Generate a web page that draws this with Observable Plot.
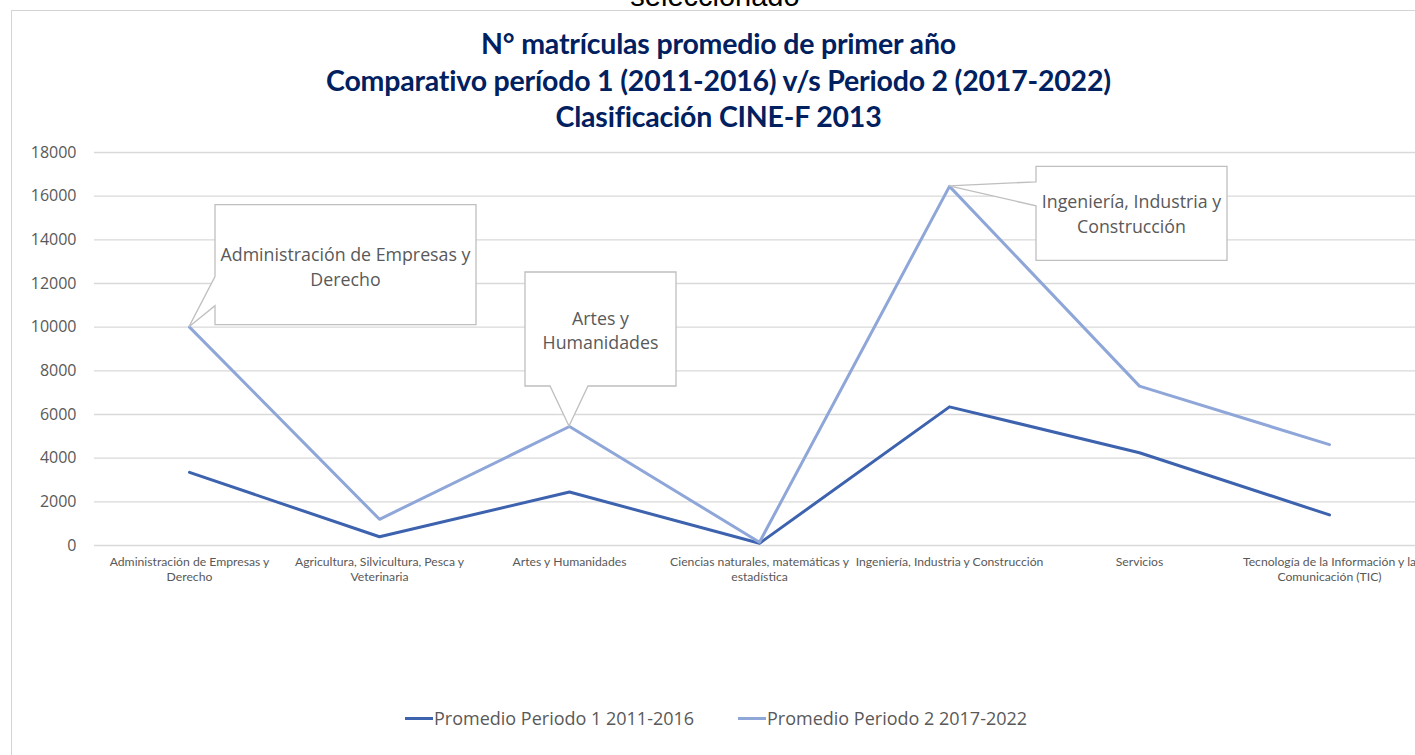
<!DOCTYPE html>
<html>
<head>
<meta charset="utf-8">
<script src="https://cdn.jsdelivr.net/npm/d3@7"></script>
<script src="https://cdn.jsdelivr.net/npm/@observablehq/plot@0.6"></script>
<style>
  html, body { margin: 0; padding: 0; background: #fff; }
  body { width: 1415px; height: 755px; overflow: hidden; position: relative; font-family: "Open Sans", sans-serif; }
  #top { position: absolute; left: 0; width: 1430px; top: -21px; text-align: center; font-family: "Liberation Sans", Arial, sans-serif; font-size: 29px; line-height: 34px; color: #000; }
  #frame { position: absolute; left: 11px; top: 10px; width: 1430px; height: 800px; border: 1px solid #d4d4d4; box-sizing: border-box; background: #fff; }
  #title { position: absolute; left: 11px; width: 1415px; top: 25px; text-align: center; font-family: Lato, sans-serif; font-weight: 700; font-size: 28.5px; line-height: 36.5px; color: #002060; letter-spacing: -0.2px; }
  #chart { position: absolute; left: 0; top: 130px; }
  #chart svg { max-width: none !important; }
  #legend { position: absolute; top: 706px; left: 0; width: 1415px; height: 24px; }
  .lg-item { position: absolute; top: 0; height: 24px; display: flex; align-items: center; font-size: 18px; color: #595959; white-space: nowrap; }
  .lg-sw { width: 28px; height: 3px; margin-right: 1px; }
</style>
</head>
<body>
<div id="top">seleccionado</div>
<div id="frame"></div>
<div id="title">N° matrículas promedio de primer año<br>Comparativo período 1 (2011-2016) v/s Periodo 2 (2017-2022)<br>Clasificación CINE-F 2013</div>
<div id="chart"></div>
<div id="legend"></div>
<script>
// ---- Data ----
const categories = [
  "Administración de Empresas y Derecho",
  "Agricultura, Silvicultura, Pesca y Veterinaria",
  "Artes y Humanidades",
  "Ciencias naturales, matemáticas y estadística",
  "Ingeniería, Industria y Construcción",
  "Servicios",
  "Tecnología de la Información y la Comunicación (TIC)"
];
const tickLabels = [
  "Administración de Empresas y\nDerecho",
  "Agricultura, Silvicultura, Pesca y\nVeterinaria",
  "Artes y Humanidades",
  "Ciencias naturales, matemáticas y\nestadística",
  "Ingeniería, Industria y Construcción",
  "Servicios",
  "Tecnología de la Información y la\nComunicación (TIC)"
];
const seriesNames = ["Promedio Periodo 1 2011-2016", "Promedio Periodo 2 2017-2022"];
const periodo1 = [3350, 400, 2450, 100, 6350, 4250, 1400];
const periodo2 = [10000, 1200, 5450, 150, 16450, 7300, 4620];
const yTicks = [0, 2000, 4000, 6000, 8000, 10000, 12000, 14000, 16000, 18000];
const calloutCategories = [
  "Administración de Empresas y Derecho",
  "Artes y Humanidades",
  "Ingeniería, Industria y Construcción"
];
const calloutLines = [
  ["Administración de Empresas y", "Derecho"],
  ["Artes y", "Humanidades"],
  ["Ingeniería, Industria y", "Construcción"]
];

const colors = ["#3D62AE", "#8FA6D9"];

const rows = [];
categories.forEach((c, i) => {
  rows.push({cat: c, value: periodo1[i], series: seriesNames[0]});
  rows.push({cat: c, value: periodo2[i], series: seriesNames[1]});
});
const labelOf = new Map(categories.map((c, i) => [c, tickLabels[i]]));

// callout geometry (pixel offsets relative to the anchored data point)
const calloutStyles = [
  {kind: "left", l: 26, r: 287, t: -122, b: -2, p1: -50, p2: -21, ty: [-73, -48]},
  {kind: "bottom", l: -44, r: 107, t: -154, b: -40, p1: -19, p2: 19, ty: [-108, -84]},
  {kind: "left", l: 87, r: 278, t: -19.5, b: 74.5, p1: -4, p2: 20, ty: [15.5, 40.5]}
];

function callouts(index, scales) {
  const g = d3.create("svg:g");
  calloutCategories.forEach((c, k) => {
    const i = categories.indexOf(c);
    const ax = scales.x(c), ay = scales.y(periodo2[i]);
    const s = calloutStyles[k];
    const L = ax + s.l, R = ax + s.r, T = ay + s.t, B = ay + s.b;
    let d;
    if (s.kind === "left") {
      d = `M${L},${T}H${R}V${B}H${L}V${ay + s.p2}L${ax},${ay}L${L},${ay + s.p1}Z`;
    } else {
      d = `M${L},${T}H${R}V${B}H${ax + s.p2}L${ax},${ay}L${ax + s.p1},${B}H${L}Z`;
    }
    g.append("path").attr("d", d).attr("fill", "#fff").attr("stroke", "#bfbfbf").attr("stroke-width", 1.3);
    const cx = (L + R) / 2;
    calloutLines[k].forEach((line, j) => {
      g.append("text")
        .attr("x", cx).attr("y", ay + s.ty[j])
        .attr("text-anchor", "middle").attr("dominant-baseline", "central")
        .attr("font-family", "Open Sans, sans-serif").attr("font-size", 17.8)
        .attr("fill", "#595959")
        .text(line);
    });
  });
  return g.node();
}

const chart = Plot.plot({
  width: 1424,
  height: 470,
  marginLeft: 94,
  marginRight: 0,
  marginTop: 22,
  marginBottom: 55,
  style: {fontFamily: "Open Sans, sans-serif", background: "transparent", overflow: "visible", maxWidth: "none"},
  x: {type: "point", domain: categories, padding: 0.5},
  y: {domain: [0, 18000]},
  color: {domain: seriesNames, range: colors},
  marks: [
    Plot.gridY(yTicks, {stroke: "#d9d9d9", strokeOpacity: 1, strokeWidth: 1.3}),
    Plot.axisY(yTicks, {tickSize: 0, tickPadding: 18, fontSize: 16, fill: "#595959", tickFormat: d3.format("d"), label: null}),
    Plot.axisX({tickSize: 0, tickPadding: 10, fontSize: 12.2, fontFamily: "Lato, sans-serif", fill: "#595959", lineHeight: 1.2, tickFormat: d => labelOf.get(d), label: null}),
    Plot.line(rows, {x: "cat", y: "value", z: "series", stroke: "series", strokeWidth: 3, strokeLinejoin: "round", strokeLinecap: "round"}),
    callouts
  ]
});
document.getElementById("chart").appendChild(chart);

// legend
const legend = document.getElementById("legend");
const lgLeft = [405, 738];
seriesNames.forEach((name, i) => {
  const item = document.createElement("div");
  item.className = "lg-item";
  item.style.left = lgLeft[i] + "px";
  const sw = document.createElement("span");
  sw.className = "lg-sw";
  sw.style.background = colors[i];
  item.appendChild(sw);
  item.appendChild(document.createTextNode(name));
  legend.appendChild(item);
});
</script>
</body>
</html>
